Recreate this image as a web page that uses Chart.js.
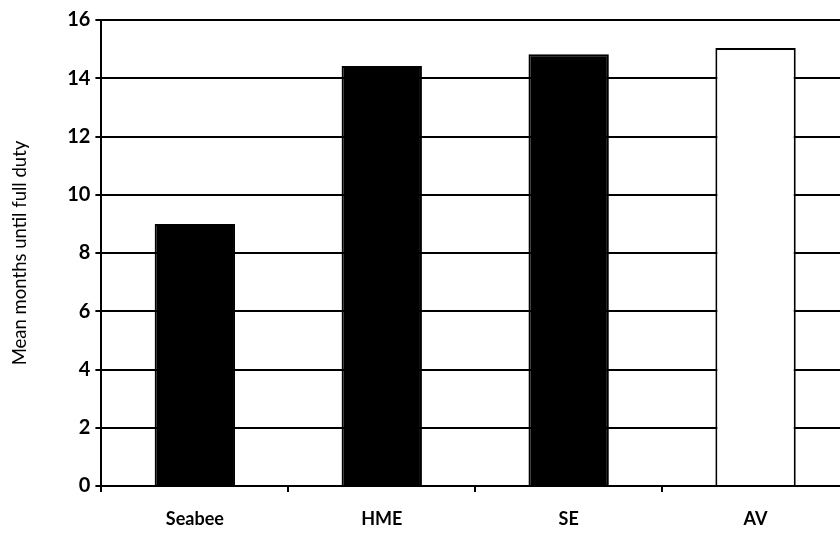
<!DOCTYPE html>
<html><head><meta charset="utf-8">
<script src="https://cdn.jsdelivr.net/npm/chart.js@4/dist/chart.umd.min.js"></script>
<style>
html,body{margin:0;padding:0;background:#fff;overflow:hidden;}
#wrap{width:860px;height:533px;position:relative;}
</style>
</head><body>
<div id="wrap"><canvas id="c"></canvas></div>
<script>
const categories = ["Seabee", "HME", "SE", "AV"];
const meanMonths = [9.0, 14.42, 14.82, 15.04];
const yTicks = [0, 2, 4, 6, 8, 10, 12, 14, 16];
const yTitle = "Mean months until full duty";

const fills = categories.map((c, i) => i === categories.length - 1 ? "#ffffff" : "#000000");

new Chart(document.getElementById("c"), {
  type: "bar",
  data: {
    labels: categories,
    datasets: [{
      data: meanMonths,
      backgroundColor: fills,
      borderColor: "#000000",
      borderWidth: 2,
      categoryPercentage: 1,
      barPercentage: 0.43
    }]
  },
  options: {
    responsive: true,
    maintainAspectRatio: false,
    animation: false,
    layout: { padding: { top: 20, right: 11, bottom: 0, left: 9 } },
    plugins: { legend: { display: false }, tooltip: { enabled: false } },
    scales: {
      x: {
        offset: true,
        afterFit: (scale) => { scale.height = 47; },
        grid: { offset: true, drawOnChartArea: false, drawTicks: true, tickLength: 6, color: "#000", lineWidth: 2 },
        border: { display: true, color: "#000", width: 2 },
        ticks: { color: "#000", font: { family: "Lato", weight: "bold", size: 18 }, padding: 16, maxRotation: 0 }
      },
      y: {
        min: 0, max: 16,
        afterBuildTicks: (axis) => { axis.ticks = yTicks.map(v => ({ value: v })); },
        grid: { color: "#000", lineWidth: 2, drawTicks: true, tickLength: 6 },
        border: { display: true, color: "#000", width: 2 },
        ticks: { color: "#000", font: { family: "Lato", weight: "bold", size: 20 }, padding: 5 },
        title: { display: true, text: yTitle, color: "#000", font: { family: "Lato", size: 18.5 }, padding: { top: 0, bottom: 31 } }
      }
    }
  }
});
</script>
</body></html>
